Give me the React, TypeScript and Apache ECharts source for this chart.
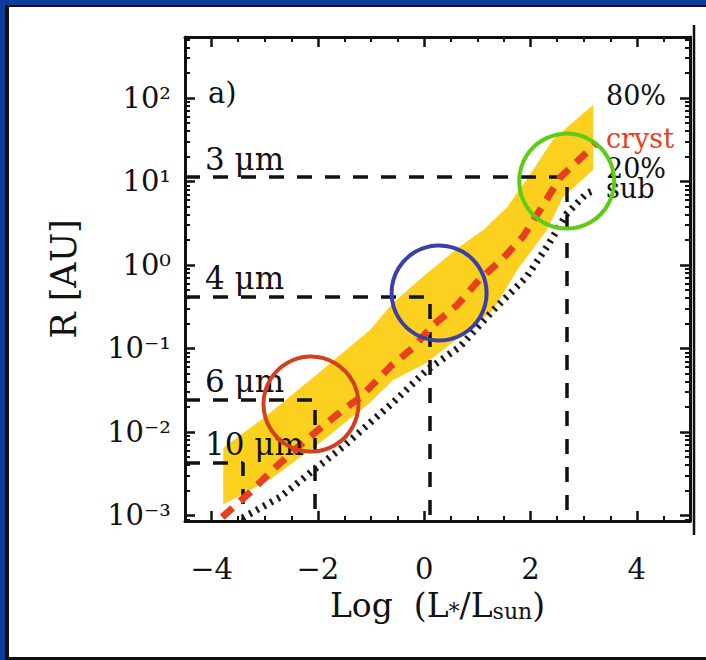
import React, { useEffect, useRef } from "react";
import * as echarts from "echarts";

// ---- axes ----
const X_MIN = -4.5;
const X_MAX = 5;
const Y_MIN = Math.pow(10, -3.066);
const Y_MAX = Math.pow(10, 2.73);

const xTickValues = [-4, -2, 0, 2, 4];
const xMinorTickValues = [-4.5, -3.5, -3, -2.5, -1.5, -1, -0.5, 0.5, 1, 1.5, 2.5, 3, 3.5, 4.5, 5];
const yTickValues = [1e-3, 1e-2, 1e-1, 1, 10, 100];
const yTickLabels = ["10⁻³", "10⁻²", "10⁻¹", "10⁰", "10¹", "10²"];
const yMinorTickValues: number[] = [];
for (let n = -4; n <= 2; n++) {
  for (let k = 2; k <= 9; k++) {
    const v = k * Math.pow(10, n);
    if (v > Y_MIN && v < Y_MAX) yMinorTickValues.push(v);
  }
}

// ---- data: yellow band (80% upper, 20% lower) ----
const bandUpperX = [-3.78, -2.96, -1.96, -1.02, -0.59, 0.05, 0.67, 1.11, 1.56, 2.05, 2.42, 2.69, 3.18];
const bandUpperR = [0.00646, 0.0158, 0.0525, 0.166, 0.351, 0.794, 1.66, 2.63, 4.9, 13.8, 31.6, 44.7, 83.2];
const bandLowerX = [-3.78, -2.9, -1.96, -1.02, -0.59, 0.05, 0.67, 1.3, 1.75, 2.31, 2.61, 3.18];
const bandLowerR = [0.00135, 0.00269, 0.00741, 0.0224, 0.0417, 0.0676, 0.138, 0.288, 0.871, 2.63, 6.46, 13.8];

// ---- crystallization radius (red dashed) ----
const crystX = [-3.8, -3.27, -2.81, -2.34, -1.83, -1.45, -1.21, -0.61, -0.21, 0.17, 0.62, 1.03, 1.48, 1.86, 2.18, 2.56, 3.21];
const crystR = [0.000955, 0.00191, 0.00372, 0.00692, 0.0129, 0.02, 0.0257, 0.0631, 0.102, 0.191, 0.331, 0.661, 1.2, 2.19, 4.57, 11.2, 27.5];

// ---- sublimation radius (black dotted) ----
const subX = [-3.42, -2.71, -2.09, -1.53, -1.02, -0.59, 0.05, 0.67, 1.3, 1.93, 2.31, 2.69, 3.06, 3.21];
const subR = [0.000933, 0.00166, 0.00347, 0.00661, 0.0129, 0.0224, 0.055, 0.105, 0.288, 0.724, 1.66, 4.17, 7.24, 7.94];

// ---- wavelength reference lines ----
const refLabels = ["3 μm", "4 μm", "6 μm", "10 μm"];
const refX = [2.686, 0.109, -2.054, -3.409];
const refR = [11.3, 0.414, 0.0242, 0.00426];

// ---- circles ----
const circleX = [-2.13, 0.28, 2.68];
const circleR = [0.0216, 0.462, 10.1];
const circleColors = ["#d2401f", "#3b3fa9", "#5ccc18"];

const FONT = "'DejaVu Serif', serif";
const INK = "#111111";

const GRID = { left: 185, right: 16, top: 37, bottom: 139 };

function buildOption() {
  const majorTick = (vals: number[]) => ({
    show: true,
    inside: true,
    length: 10,
    customValues: vals,
    lineStyle: { color: INK, width: 2.5 },
  });
  const minorTick = (vals: number[]) => ({
    show: true,
    inside: true,
    length: 5,
    customValues: vals,
    lineStyle: { color: INK, width: 2 },
  });
  const line = { show: true, onZero: false, lineStyle: { color: INK, width: 3 } };
  const noLine = { show: false, onZero: false };

  const xBase = { type: "value", min: X_MIN, max: X_MAX, splitLine: { show: false } };
  const yBase = { type: "log", logBase: 10, min: Y_MIN, max: Y_MAX, splitLine: { show: false } };

  const xAxis = [
    {
      ...xBase,
      gridIndex: 0,
      position: "bottom",
      axisLine: line,
      axisTick: majorTick(xTickValues),
      axisLabel: {
        customValues: xTickValues,
        formatter: (v: number) => (v < 0 ? "−" + Math.abs(v) : String(v)),
        fontFamily: FONT,
        fontSize: 29,
        color: INK,
        margin: 33,
      },
      name: "Log  (L{s|*}/L{s|sun})",
      nameLocation: "middle",
      nameGap: 68,
      nameTextStyle: {
        fontFamily: FONT,
        fontSize: 33,
        color: INK,
        rich: {
          s: { fontFamily: FONT, fontSize: 22, color: INK, verticalAlign: "bottom", padding: [8, 0, 0, 0] },
        },
      },
    },
    { ...xBase, gridIndex: 0, position: "top", axisLine: line, axisTick: majorTick(xTickValues), axisLabel: { show: false } },
    { ...xBase, gridIndex: 1, position: "bottom", axisLine: noLine, axisTick: minorTick(xMinorTickValues), axisLabel: { show: false } },
    { ...xBase, gridIndex: 1, position: "top", axisLine: noLine, axisTick: minorTick(xMinorTickValues), axisLabel: { show: false } },
  ];

  const yAxis = [
    {
      ...yBase,
      gridIndex: 0,
      position: "left",
      axisLine: line,
      axisTick: majorTick(yTickValues),
      axisLabel: {
        customValues: yTickValues,
        formatter: (v: number) => {
          const i = yTickValues.findIndex((t) => Math.abs(Math.log10(t) - Math.log10(v)) < 1e-6);
          return i >= 0 ? yTickLabels[i] : "";
        },
        fontFamily: FONT,
        fontSize: 29,
        color: INK,
        margin: 14,
      },
      name: "R [AU]",
      nameLocation: "middle",
      nameGap: 104,
      nameTextStyle: { fontFamily: FONT, fontSize: 35, color: INK },
    },
    { ...yBase, gridIndex: 0, position: "right", axisLine: line, axisTick: majorTick(yTickValues), axisLabel: { show: false } },
    { ...yBase, gridIndex: 1, position: "left", axisLine: noLine, axisTick: minorTick(yMinorTickValues), axisLabel: { show: false } },
    { ...yBase, gridIndex: 1, position: "right", axisLine: noLine, axisTick: minorTick(yMinorTickValues), axisLabel: { show: false } },
  ];

  const refSeries = refX.map((x, i) => ({
    type: "line",
    name: refLabels[i],
    xAxisIndex: 0,
    yAxisIndex: 0,
    data: [
      [X_MIN, refR[i]],
      [x, refR[i]],
      [x, Y_MIN],
    ],
    showSymbol: false,
    symbol: "none",
    silent: true,
    z: 3,
    lineStyle: { color: INK, width: 3.5, type: [15, 13], cap: "butt" },
  }));

  return {
    animation: false,
    backgroundColor: "transparent",
    grid: [
      { ...GRID, outerBoundsMode: "none", containLabel: false },
      { ...GRID, outerBoundsMode: "none", containLabel: false },
    ],
    xAxis,
    yAxis,
    series: [
      {
        type: "custom",
        name: "band",
        coordinateSystem: "cartesian2d",
        xAxisIndex: 0,
        yAxisIndex: 0,
        data: [[0, 1]],
        silent: true,
        z: 1,
        renderItem: (_params: any, api: any) => {
          const pts: number[][] = [];
          bandUpperX.forEach((x, i) => pts.push(api.coord([x, bandUpperR[i]])));
          for (let i = bandLowerX.length - 1; i >= 0; i--) pts.push(api.coord([bandLowerX[i], bandLowerR[i]]));
          return { type: "polygon", shape: { points: pts }, style: { fill: "#fcd01f", stroke: "none" } };
        },
      },
      ...refSeries,
      {
        type: "line",
        name: "sub",
        xAxisIndex: 0,
        yAxisIndex: 0,
        data: subX.map((x, i) => [x, subR[i]]),
        showSymbol: false,
        symbol: "none",
        silent: true,
        z: 4,
        lineStyle: { color: "#1a1a1a", width: 7, type: [2.5, 5.5], cap: "butt" },
      },
      {
        type: "line",
        name: "cryst",
        xAxisIndex: 0,
        yAxisIndex: 0,
        data: crystX.map((x, i) => [x, crystR[i]]),
        showSymbol: false,
        symbol: "none",
        silent: true,
        z: 5,
        lineStyle: { color: "#e8401f", width: 7, type: [14, 10], cap: "butt" },
      },
      {
        type: "scatter",
        name: "refLabels",
        xAxisIndex: 0,
        yAxisIndex: 0,
        data: refR.map((r, i) => ({ value: [X_MIN, r], label: { formatter: refLabels[i] } })),
        symbolSize: 0,
        silent: true,
        z: 6,
        itemStyle: { opacity: 1 },
        label: {
          show: true,
          position: "top",
          align: "left",
          distance: 3,
          offset: [20, 0],
          fontFamily: FONT,
          fontSize: 31,
          color: INK,
          opacity: 1,
        },
      },
      {
        type: "scatter",
        name: "circles",
        xAxisIndex: 0,
        yAxisIndex: 0,
        data: circleX.map((x, i) => ({ value: [x, circleR[i]], itemStyle: { borderColor: circleColors[i] } })),
        symbol: "circle",
        symbolSize: 95,
        silent: true,
        z: 7,
        itemStyle: { color: "rgba(0,0,0,0)", borderWidth: 4, opacity: 1 },
      },
    ],
    graphic: [
      { type: "text", x: 208, y: 93, style: { text: "a)", fontFamily: FONT, fontSize: 29, fill: INK, verticalAlign: "middle" } },
      { type: "text", x: 606, y: 95, style: { text: "80%", fontFamily: FONT, fontSize: 27, fill: INK, verticalAlign: "middle" } },
      { type: "text", x: 606, y: 138, style: { text: "cryst", fontFamily: FONT, fontSize: 27, fill: "#e8401f", verticalAlign: "middle" } },
      { type: "text", x: 606, y: 168, style: { text: "20%", fontFamily: FONT, fontSize: 27, fill: INK, verticalAlign: "middle" } },
      { type: "text", x: 606, y: 188, style: { text: "sub", fontFamily: FONT, fontSize: 27, fill: INK, verticalAlign: "middle" } },
      { type: "line", shape: { x1: 694, y1: 25, x2: 694, y2: 535 }, style: { stroke: INK, lineWidth: 2.5 } },
    ],
  };
}

export default function App() {
  const ref = useRef<HTMLDivElement>(null);
  useEffect(() => {
    if (!ref.current) return;
    const chart = echarts.init(ref.current, null, { renderer: "svg" });
    chart.setOption(buildOption() as any);
    return () => chart.dispose();
  }, []);
  return (
    <div style={{ position: "fixed", left: 0, top: 0, width: 706, height: 660, background: "#0b3d9f", overflow: "hidden" }}>
      <div style={{ position: "absolute", left: 5, top: 5, right: 0, bottom: 0, background: "#111" }} />
      <div style={{ position: "absolute", left: 9, top: 7, right: 0, bottom: 3, background: "#ffffff" }} />
      <div ref={ref} style={{ position: "absolute", left: 0, top: 0, width: 706, height: 660 }} />
    </div>
  );
}
